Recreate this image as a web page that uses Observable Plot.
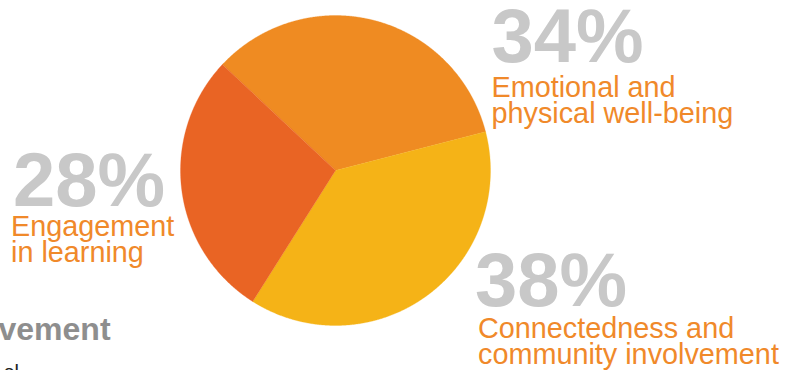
<!DOCTYPE html>
<html>
<head>
<meta charset="utf-8">
<script src="https://cdn.jsdelivr.net/npm/d3@7"></script>
<script src="https://cdn.jsdelivr.net/npm/@observablehq/plot@0.6"></script>
<style>
  html, body { margin: 0; padding: 0; background: #fff; overflow: hidden; }
  #chart svg { display: block; }
</style>
</head>
<body>
<div id="chart"></div>
<script>
// ---- data ----
const categories = ["Emotional and physical well-being", "Connectedness and community involvement", "Engagement in learning"];
const shares = [34, 38, 28];
const pctLabels = ["34%", "38%", "28%"];
const descLabels = ["Emotional and\nphysical well-being", "Connectedness and\ncommunity involvement", "Engagement\nin learning"];
const sliceColors = ["#EF8B22", "#F5B317", "#E96424"];
const cutHeading = "vement";
const cutBody = "el";

// ---- layout (positions, sizes) ----
const W = 789, H = 370;
const pie = {cx: 335, cy: 170, r: 155, startDeg: -46.9};
const labelPos = [
  {px: 491, py: 61, dx: 491, dy: 122.7},
  {px: 474.5, py: 305, dx: 477.5, dy: 363.5},
  {px: 12.5, py: 205, dx: 10.5, dy: 261.7}
];

// ---- build slice outlines from the pie layout ----
const start = pie.startDeg * Math.PI / 180;
const arcs = d3.pie().sort(null).value(d => d).startAngle(start).endAngle(start + 2 * Math.PI)(shares);
const pts = [];
arcs.forEach((a, i) => {
  const key = categories[i];
  pts.push({key, x: pie.cx, y: pie.cy});
  const n = Math.ceil((a.endAngle - a.startAngle) / (0.25 * Math.PI / 180));
  for (let k = 0; k <= n; k++) {
    const t = a.startAngle + (a.endAngle - a.startAngle) * k / n;
    pts.push({key, x: pie.cx + pie.r * Math.sin(t), y: pie.cy - pie.r * Math.cos(t)});
  }
});

const pctRows = categories.map((c, i) => ({text: pctLabels[i], x: labelPos[i].px, y: labelPos[i].py}));
const descRows = categories.map((c, i) => ({text: descLabels[i], x: labelPos[i].dx, y: labelPos[i].dy}));

const font = "'Liberation Sans', Arial, Helvetica, sans-serif";

const chart = Plot.plot({
  width: W,
  height: H,
  margin: 0,
  x: {domain: [0, W], range: [0, W], axis: null},
  y: {domain: [0, H], range: [0, H], axis: null},
  color: {domain: categories, range: sliceColors},
  style: {fontFamily: font, background: "#fff", overflow: "hidden"},
  marks: [
    Plot.line(pts, {x: "x", y: "y", z: "key", fill: "key", stroke: "key", strokeWidth: 0.3, curve: "linear-closed"}),
    Plot.text(pctRows, {x: "x", y: "y", text: "text", textAnchor: "start", lineAnchor: "bottom",
      fontSize: 76, fontWeight: "bold", fill: "#C8C8C8", fontFamily: font}),
    Plot.text(descRows, {x: "x", y: "y", text: "text", textAnchor: "start", lineAnchor: "bottom",
      fontSize: 28.8, lineHeight: 26.5 / 28.8, fill: "#F0892A", fontFamily: font}),
    Plot.text([cutHeading], {x: () => -2, y: () => 339, text: d => d, textAnchor: "start", lineAnchor: "bottom",
      fontSize: 32, fontWeight: "bold", fill: "#8E8E8E", fontFamily: font}),
    Plot.text([cutBody], {x: () => 3, y: () => 378, text: d => d, textAnchor: "start", lineAnchor: "bottom",
      fontSize: 20, fill: "#222", fontFamily: font})
  ]
});
document.getElementById("chart").appendChild(chart);
</script>
</body>
</html>
